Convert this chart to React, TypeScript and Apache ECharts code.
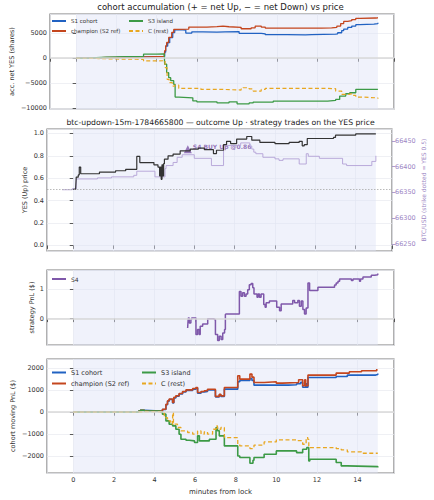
import React, { useEffect, useRef } from "react";
import * as echarts from "echarts";

type Pt = [number, number];

// ---- cohort accumulation (net YES shares), step-post series [minute, shares]
const s1CohortAcc: Pt[] = [[0,0],[0.5,60],[1,120],[1.5,150],[2,200],[2.5,220],[3,260],[3.4,300],[4,320],[4.4,1200],[4.45,2400],[4.55,3100],[4.65,4100],[4.8,5100],[4.9,5650],[5.3,5600],[5.45,5000],[5.75,5250],[6.3,5200],[7,5250],[7.4,5300],[8.1,4950],[9.2,4850],[9.4,4680],[10.5,4650],[11.4,4700],[11.7,4800],[12.9,4850],[13.0,5070],[13.2,5500],[13.3,5800],[13.5,6130],[13.7,6400],[13.9,6670],[14.1,6800],[14.8,6900],[15,7070]];
const champAcc: Pt[] = [[0,0],[0.5,80],[1,150],[1.5,180],[2,220],[2.5,250],[3,280],[3.4,330],[4,350],[4.38,400],[4.4,1500],[4.45,2470],[4.5,3130],[4.6,4130],[4.75,5130],[4.85,5730],[5.0,5800],[5.6,6200],[6.5,6300],[7.0,6400],[7.3,6260],[7.6,6150],[8.2,5870],[8.7,6050],[8.9,6400],[9.2,6200],[9.4,6000],[10.5,5980],[11.5,6000],[12.2,6050],[12.7,6150],[12.96,6400],[13.15,6900],[13.3,7330],[13.5,7470],[13.7,7700],[13.9,7930],[14.1,8000],[14.9,8050],[15,8130]];
const s3IslandAcc: Pt[] = [[0,0],[0.5,100],[1,200],[1.5,280],[2,300],[2.5,320],[3,380],[3.35,800],[4,850],[4.38,900],[4.4,-1200],[4.5,-2870],[4.6,-3870],[4.7,-4470],[4.85,-5200],[4.92,-7730],[5.1,-7870],[5.8,-8500],[6.0,-8670],[7.0,-8870],[7.6,-8670],[8.0,-9070],[8.6,-8900],[8.8,-8730],[9.8,-8530],[12.5,-8400],[12.9,-8200],[13.1,-7530],[13.4,-7070],[13.6,-6870],[13.9,-6200],[15,-6200]];
const restAcc: Pt[] = [[0,0],[0.5,-50],[1,-100],[1.5,-150],[2,-200],[2.5,-200],[3,-250],[3.35,-530],[4,-500],[4.38,-450],[4.42,-1870],[4.52,-4200],[4.62,-4870],[4.78,-5530],[4.9,-5330],[5.1,-6000],[6.2,-6200],[7.3,-6330],[8.2,-6100],[8.3,-5870],[8.6,-6100],[8.8,-6530],[9.2,-6200],[9.4,-6000],[12.5,-6050],[12.9,-6530],[13.2,-7200],[13.45,-7100],[13.7,-7400],[13.9,-7730],[14.2,-7870],[14.9,-7900],[15,-8070]];

// ---- market: YES price and BTC spot
const yesPrice: Pt[] = [[0,0.5],[0.12,0.51],[0.15,0.61],[0.25,0.63],[0.3,0.70],[0.37,0.64],[1.3,0.655],[2.1,0.667],[2.6,0.68],[3.15,0.795],[3.3,0.74],[4.0,0.72],[4.2,0.70],[4.28,0.62],[4.32,0.70],[4.36,0.59],[4.4,0.72],[4.44,0.62],[4.48,0.73],[4.52,0.77],[4.7,0.80],[4.95,0.816],[5.3,0.845],[5.8,0.86],[6.2,0.87],[6.5,0.855],[6.95,0.82],[7.1,0.85],[7.45,0.90],[7.6,0.93],[7.8,0.91],[8.1,0.95],[8.6,0.973],[8.85,0.94],[9.25,0.92],[10.0,0.91],[10.7,0.92],[11.2,0.93],[11.35,0.89],[11.45,0.9],[11.6,0.955],[12.9,0.965],[13.0,0.985],[14.0,0.996],[15,1.0]];
const btcUsd: Pt[] = [[-0.55,66355],[-0.05,66357],[0.15,66376],[1.2,66378],[1.9,66380],[3.0,66383],[3.15,66391],[4.05,66380],[4.55,66396],[4.6,66402],[4.95,66408],[5.15,66418],[5.4,66423],[6.0,66416],[6.85,66402],[7.45,66441],[8.3,66446],[8.75,66440],[8.85,66434],[8.95,66428],[9.05,66425],[9.4,66418],[10.0,66415],[10.2,66412],[10.4,66415],[11.2,66405],[11.55,66425],[11.65,66420],[12.2,66416],[13.35,66405],[13.55,66402],[14.8,66410],[15,66421]];
const strikeYes = 0.5;
const s4BuyAt: Pt = [5.68, 0.86];

// ---- S4 strategy PnL ($)
const s4Pnl: Pt[] = [[5.63,-0.32],[5.66,0.02],[5.71,-0.15],[5.79,-0.03],[5.83,0.02],[6.04,-0.54],[6.12,-0.37],[6.2,-0.54],[6.25,-0.26],[6.37,-0.18],[6.62,0.0],[6.94,-0.03],[7.0,-0.54],[7.11,-0.75],[7.19,-0.6],[7.28,-0.71],[7.36,-0.49],[7.45,-0.37],[7.49,0.14],[7.52,0.16],[8.18,0.93],[8.26,0.76],[8.34,0.88],[8.43,0.76],[8.51,0.84],[8.59,0.99],[8.67,1.16],[8.76,1.2],[8.84,1.05],[8.9,0.84],[9.05,0.73],[9.1,0.84],[9.17,0.73],[9.25,0.84],[9.38,0.48],[9.45,0.39],[9.5,0.54],[9.66,0.6],[10.02,0.39],[10.16,0.27],[10.24,0.5],[10.81,0.62],[10.9,0.54],[11.06,0.62],[11.14,0.42],[11.23,0.6],[11.31,0.31],[11.39,0.16],[11.47,0.36],[11.56,1.22],[11.64,0.96],[12.05,1.07],[12.87,1.15],[12.95,1.22],[13.04,1.28],[13.12,1.35],[13.7,1.3],[13.78,1.35],[14.1,1.28],[14.15,1.35],[14.27,1.42],[14.68,1.48],[14.85,1.5],[15.0,1.54]];

// ---- cohort moving PnL ($)
const s1CohortPnl: Pt[] = [[0,0],[3.2,40],[3.3,80],[3.5,50],[4.3,20],[4.39,120],[4.56,340],[4.64,500],[4.72,580],[4.89,420],[4.95,650],[5.05,730],[5.21,830],[5.38,920],[5.55,990],[5.88,1050],[6.04,1100],[6.12,870],[6.29,920],[6.45,950],[6.61,1020],[6.9,1000],[7.0,700],[7.19,780],[7.27,720],[7.44,1053],[8.1,1388],[8.2,1450],[8.7,1541],[8.8,1450],[8.9,1236],[10.6,1250],[11.0,1300],[11.2,1360],[11.3,1140],[11.45,1300],[11.5,1140],[11.56,1587],[12.95,1633],[13.5,1694],[14.9,1720],[15,1770]];
const champPnl: Pt[] = [[0,0],[3.2,40],[3.3,90],[3.5,50],[4.3,20],[4.39,135],[4.56,362],[4.64,520],[4.72,600],[4.89,440],[4.95,680],[5.05,750],[5.21,855],[5.38,945],[5.55,1020],[5.88,1085],[6.04,1130],[6.12,900],[6.29,945],[6.45,980],[6.61,1050],[6.9,1040],[7.0,720],[7.19,820],[7.27,747],[7.44,1130],[8.1,1663],[8.2,1510],[8.7,1740],[8.8,1600],[8.9,1358],[9.4,1390],[10.0,1327],[10.3,1358],[11.1,1480],[11.3,1206],[11.4,1480],[11.45,1206],[11.56,1694],[12.95,1785],[13.6,1846],[14.2,1892],[14.95,1968]];
const s3IslandPnl: Pt[] = [[0,0],[3.2,40],[3.3,90],[3.5,50],[4.3,0],[4.39,-90],[4.56,-400],[4.72,-550],[4.89,-625],[5.05,-780],[5.21,-1007],[5.3,-1236],[5.55,-1282],[5.71,-1312],[5.97,-1388],[6.12,-1083],[6.21,-1312],[6.7,-1236],[7.03,-701],[7.1,-850],[7.19,-1083],[7.44,-1541],[8.1,-2000],[8.2,-2075],[8.7,-2334],[8.85,-2200],[8.9,-2075],[9.4,-1923],[10.0,-1770],[11.0,-1850],[11.3,-1694],[11.5,-1617],[11.6,-2227],[11.65,-2151],[12.95,-2303],[13.2,-2456],[13.5,-2487],[15,-2530]];
const restPnl: Pt[] = [[0,0],[3.2,30],[3.5,20],[4.3,0],[4.48,-250],[4.64,-400],[4.8,-550],[4.89,-20],[4.93,-550],[5.13,-700],[5.3,-855],[5.63,-930],[5.88,-1007],[6.12,-855],[6.29,-1007],[6.45,-900],[6.61,-1007],[6.86,-780],[7.03,-625],[7.1,-780],[7.27,-700],[7.44,-1160],[8.1,-1465],[8.2,-1541],[8.7,-1663],[8.9,-1510],[9.4,-1358],[10.0,-1266],[11.0,-1300],[11.3,-1465],[11.47,-1160],[11.55,-1240],[11.6,-1541],[11.65,-1617],[12.95,-1663],[13.2,-1724],[13.5,-1816],[14.2,-1877],[15,-1900]];

const COL = {
  s1: "#2162c2",
  champ: "#c4461e",
  s3: "#3c9a46",
  rest: "#e8a721",
  yes: "#333333",
  btc: "#b3a1d6",
  s4: "#7f58aa",
  btcAxis: "#9d86c4",
};

const FONT = "DejaVu Sans";
const minus = (v: number, d = 0) => (v < 0 ? "\u2212" + Math.abs(v).toFixed(d) : v.toFixed(d));

const GRID_LEFT = 47;
const GRID_RIGHT = 40;
const PLOT_MID = GRID_LEFT + (434 - GRID_LEFT - GRID_RIGHT) / 2;
const grids = [
  { top: 14, height: 95 },
  { top: 129, height: 122 },
  { top: 270, height: 75 },
  { top: 359, height: 114 },
];

const shade = {
  silent: true,
  itemStyle: { color: "rgba(222,227,246,0.45)" },
  data: [[{ xAxis: 0 }, { xAxis: 15 }]],
};
const zeroLine = {
  silent: true,
  symbol: "none",
  label: { show: false },
  lineStyle: { color: "#d9d9d9", width: 1.6, type: "solid" },
  data: [{ yAxis: 0 }],
};

function line(name: string, data: Pt[], color: string, xi: number, yi: number, width: number, dashed = false, extra: any = {}) {
  return {
    type: "line",
    name,
    data,
    step: "end",
    xAxisIndex: xi,
    yAxisIndex: yi,
    showSymbol: false,
    symbol: "none",
    lineStyle: { color, width, type: dashed ? [4, 2.5] : "solid" },
    itemStyle: { color },
    ...extra,
  };
}

function xAxis(i: number, last: boolean) {
  return {
    type: "value",
    gridIndex: i,
    min: -1.3,
    max: 15.8,
    splitNumber: 8,
    minInterval: 2,
    maxInterval: 2,
    axisLine: { show: false },
    axisTick: { show: true, length: 3.5, lineStyle: { color: "#333", width: 0.8 } },
    axisLabel: {
      show: last,
      showMinLabel: false,
      showMaxLabel: false,
      fontSize: 6.5,
      color: "#333",
      margin: 3,
      fontFamily: FONT,
      formatter: (v: number) => minus(v),
    },
    splitLine: { show: true, lineStyle: { color: "#e8e9ef", width: 0.7 } },
    name: last ? "minutes from lock" : "",
    nameLocation: "middle",
    nameGap: 15,
    nameMoveOverlap: false,
    nameTextStyle: { fontSize: 7, color: "#333", fontFamily: FONT },
  };
}

function yAxis(i: number, min: number, max: number, step: number, name: string, gap: number, digits = 0) {
  return {
    type: "value",
    gridIndex: i,
    min,
    max,
    splitNumber: Math.round((max - min) / step),
    minInterval: step,
    maxInterval: step,
    axisLine: { show: false },
    axisTick: { show: true, length: 3.5, lineStyle: { color: "#333", width: 0.8 } },
    axisLabel: {
      showMinLabel: false,
      showMaxLabel: false,
      fontSize: 6.5,
      color: "#333",
      margin: 3,
      fontFamily: FONT,
      formatter: (v: number) => minus(v, digits),
    },
    splitLine: { show: true, lineStyle: { color: "#e8e9ef", width: 0.7 } },
    name,
    nameLocation: "middle",
    nameGap: gap,
    nameRotate: 90,
    nameMoveOverlap: false,
    nameTextStyle: { fontSize: 6.5, color: "#333", fontFamily: FONT },
  };
}

function legend(names: string[], left: number, top: number, fontSize: number, gap: number) {
  return {
    data: names,
    orient: "vertical",
    left,
    top,
    itemWidth: 14,
    itemHeight: 6,
    itemGap: gap,
    padding: 0,
    selectedMode: false,
    itemStyle: { opacity: 0 },
    textStyle: { fontSize, color: "#333", fontFamily: FONT },
  };
}

export default function App() {
  const ref = useRef<HTMLDivElement>(null);

  useEffect(() => {
    if (!ref.current) return;
    const chart = echarts.init(ref.current, undefined, { renderer: "svg" });

    const option: any = {
      animation: false,
      backgroundColor: "#ffffff",
      textStyle: { fontFamily: FONT },
      grid: grids.map((g) => ({
        left: GRID_LEFT,
        right: GRID_RIGHT,
        top: g.top,
        height: g.height,
        show: true,
        borderColor: "#7c7c7c",
        borderWidth: 1.2,
        backgroundColor: "transparent",
      })),
      xAxis: [xAxis(0, false), xAxis(1, false), xAxis(2, false), xAxis(3, true)],
      yAxis: [
        yAxis(0, -10100, 8800, 5000, "acc. net YES (shares)", 35),
        yAxis(1, -0.05, 1.04, 0.2, "YES (Up) price", 18.5, 1),
        {
          ...yAxis(1, 66236, 66473, 50, "BTC/USD (strike dotted = YES 0.5)", 28),
          position: "right",
          splitLine: { show: false },
          axisTick: { show: true, length: 3.5, lineStyle: { color: COL.btcAxis, width: 0.8 } },
          axisLabel: {
            showMinLabel: false,
            showMaxLabel: false,
            fontSize: 6.5,
            color: COL.btcAxis,
            margin: 3,
            fontFamily: FONT,
            formatter: (v: number) => v.toFixed(0),
          },
          nameTextStyle: { fontSize: 6, color: COL.btcAxis, fontFamily: FONT },
        },
        yAxis(2, -0.9, 1.66, 1, "strategy PnL ($)", 12),
        yAxis(3, -2780, 2430, 1000, "cohort moving PnL ($)", 31),
      ],
      legend: [
        legend(["S1 cohort", "champion (S2 ref)"], 51, 18, 5.5, 4),
        legend(["S3 island", "C (rest)"], 128, 18, 5.5, 4),
        legend(["S4"], 51, 276, 6, 4),
        legend(["S1 cohort", "champion (S2 ref)"], 51, 369, 6.5, 4),
        legend(["S3 island", "C (rest)"], 141, 369, 6.5, 4),
      ],
      graphic: [
        {
          type: "text",
          x: PLOT_MID,
          y: 7,
          style: {
            text: "cohort accumulation (+ = net Up, \u2212 = net Down) vs price",
            align: "center",
            verticalAlign: "middle",
            fontSize: 8.5,
            fontFamily: FONT,
            fill: "#222",
          },
        },
        {
          type: "text",
          x: PLOT_MID,
          y: 122,
          style: {
            text: "btc-updown-15m-1784665800 \u2014 outcome Up \u00b7 strategy trades on the YES price",
            align: "center",
            verticalAlign: "middle",
            fontSize: 7.7,
            fontFamily: FONT,
            fill: "#222",
          },
        },
      ],
      series: [
        line("S1 cohort", s1CohortAcc, COL.s1, 0, 0, 1.3, false, { markArea: shade, markLine: zeroLine }),
        line("champion (S2 ref)", champAcc, COL.champ, 0, 0, 1.3),
        line("S3 island", s3IslandAcc, COL.s3, 0, 0, 1.3),
        line("C (rest)", restAcc, COL.rest, 0, 0, 1.2, true),

        line("BTC/USD", btcUsd, COL.btc, 1, 2, 0.9, false, { markArea: shade }),
        line("YES price", yesPrice, COL.yes, 1, 1, 1.2, false, {
          markLine: {
            silent: true,
            symbol: "none",
            label: { show: false },
            lineStyle: { color: "#a8a8a8", width: 0.8, type: [1.5, 1.5] },
            data: [{ yAxis: strikeYes }],
          },
        }),
        {
          type: "scatter",
          name: "S4 buy",
          xAxisIndex: 1,
          yAxisIndex: 1,
          symbol: "triangle",
          symbolSize: 8,
          itemStyle: { color: COL.s4 },
          data: [s4BuyAt],
          label: {
            show: true,
            position: "right",
            distance: 1,
            offset: [0, -3],
            formatter: () => `S4 BUY Up @${s4BuyAt[1].toFixed(2)}`,
            fontSize: 6,
            fontWeight: "bold",
            color: COL.s4,
            fontFamily: FONT,
          },
        },

        line("S4", s4Pnl, COL.s4, 2, 3, 1.5, false, { markArea: shade, markLine: zeroLine }),

        line("S1 cohort", s1CohortPnl, COL.s1, 3, 4, 1.6, false, { markArea: shade, markLine: zeroLine }),
        line("champion (S2 ref)", champPnl, COL.champ, 3, 4, 1.6),
        line("S3 island", s3IslandPnl, COL.s3, 3, 4, 1.6),
        line("C (rest)", restPnl, COL.rest, 3, 4, 1.3, true),
      ],
    };

    chart.setOption(option);
    return () => chart.dispose();
  }, []);

  return (
    <div
      ref={ref}
      style={{ position: "absolute", left: 0, top: 0, width: 434, height: 500 }}
    />
  );
}
